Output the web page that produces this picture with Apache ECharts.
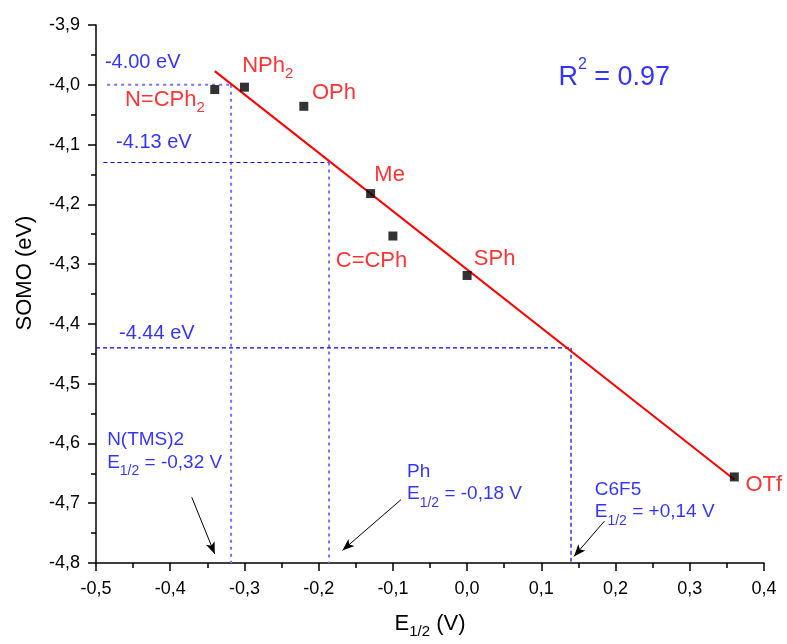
<!DOCTYPE html>
<html>
<head>
<meta charset="utf-8">
<script src="https://cdn.jsdelivr.net/npm/echarts@6/dist/echarts.min.js"></script>
<style>html,body{margin:0;padding:0;background:#fff;}#c{width:787px;height:644px;}</style>
</head>
<body>
<div id="c"></div>
<script>
// ---- data ----
const substituents = ['N=CPh{s|2}', 'NPh{s|2}', 'OPh', 'Me', 'C=CPh', 'SPh', 'OTf'];
const e12 = [-0.34, -0.30, -0.22, -0.13, -0.10, 0.00, 0.36];
const somo = [-4.008, -4.004, -4.036, -4.182, -4.253, -4.319, -4.656];
const labelX = [-0.461, -0.303, -0.209, -0.125, -0.177, 0.009, 0.375];
const labelY = [-4.025, -3.969, -4.013, -4.150, -4.294, -4.291, -4.670];

const fitIntercept = -4.309;
const fitSlope = -0.976;
const fitRange = [-0.34, 0.36];

const xTicks = [-0.5, -0.4, -0.3, -0.2, -0.1, 0.0, 0.1, 0.2, 0.3, 0.4];
const yTicks = [-4.8, -4.7, -4.6, -4.5, -4.4, -4.3, -4.2, -4.1, -4.0, -3.9];

// reference levels
const levelSomo = [-4.00, -4.13, -4.44];
const levelE = [-0.318, -0.186, 0.14];
const levelStartX = [-0.485, -0.49, -0.5];

const noteText = ['-4.00 eV', '-4.13 eV', '-4.44 eV', 'N(TMS)2', 'E{s|1/2} = -0,32 V', 'Ph', 'E{s|1/2} = -0,18 V', 'C6F5', 'E{s|1/2} = +0,14 V'];
const noteX = [-0.488, -0.473, -0.469, -0.485, -0.485, -0.081, -0.081, 0.172, 0.172];
const noteY = [-3.963, -4.096, -4.416, -4.594, -4.632, -4.647, -4.685, -4.677, -4.715];

const r2Text = 'R{p|2} = 0.97';
const r2Pos = [0.123, -3.988];

const arrowFrom = [[-0.371, -4.690], [-0.089, -4.694], [0.185, -4.730]];
const arrowTo = [[-0.340, -4.785], [-0.168, -4.779], [0.144, -4.789]];

// ---- chart ----
const FONT = 'Liberation Sans, Arial, sans-serif';
const chart = echarts.init(document.getElementById('c'), null, {renderer: 'canvas'});
const fmt = v => { if (Math.abs(v) < 1e-9) v = 0; return v.toFixed(1).replace('.', ','); };

const series = [];

// fit line
series.push({
  type: 'line', name: 'fit', symbol: 'none', z: 3,
  data: fitRange.map(x => [x, fitIntercept + fitSlope * x]),
  lineStyle: {color: '#ff0000', width: 2}, animation: false, silent: true
});

// reference lines
const darkDash = {color: '#0000dd', width: 1.2, type: [4, 3]};
const lightDot = {color: '#7373ff', width: 2, type: [3, 4]};
const hStyles = [lightDot, darkDash, darkDash];
const vStyles = [lightDot, lightDot, darkDash];
levelSomo.forEach((y, i) => {
  series.push({type: 'line', symbol: 'none', z: 2, animation: false, silent: true,
    data: [[levelStartX[i], y], [levelE[i], y]], lineStyle: hStyles[i]});
  series.push({type: 'line', symbol: 'none', z: 2, animation: false, silent: true,
    data: [[levelE[i], y], [levelE[i], yTicks[0]]], lineStyle: vStyles[i]});
});

// points
series.push({
  type: 'scatter', symbol: 'rect', symbolSize: 9, z: 5,
  itemStyle: {color: '#000', borderColor: '#000', borderWidth: 0},
  data: e12.map((x, i) => [x, somo[i]]), animation: false
});

// red labels
const redRich = {
  s: {fontSize: 15, color: '#ff0000', fontFamily: FONT, padding: [16, 0, 0, 0]}
};
series.push({
  type: 'scatter', symbolSize: 0, z: 6, animation: false, silent: true,
  data: substituents.map((t, i) => ({value: [labelX[i], labelY[i]], name: t})),
  label: {show: true, position: 'right', distance: 0, formatter: p => p.name,
    color: '#ff0000', fontSize: 22, fontFamily: FONT, rich: redRich}
});

// blue notes
const blueRich = {
  s: {fontSize: 14, color: '#0000ff', fontFamily: FONT, padding: [17, 0, 0, 0]},
  p: {fontSize: 16, color: '#0000ff', fontFamily: FONT, padding: [0, 0, 26, 0]}
};
const noteSizes = [20, 20, 20, 19, 19, 19, 19, 19, 19];
series.push({
  type: 'scatter', symbolSize: 0, z: 6, animation: false, silent: true,
  data: noteText.map((t, i) => ({value: [noteX[i], noteY[i]], name: t,
    label: {fontSize: noteSizes[i]}})),
  label: {show: true, position: 'right', distance: 0, formatter: p => p.name,
    color: '#0000ff', fontFamily: FONT, rich: blueRich}
});
series.push({
  type: 'scatter', symbolSize: 0, z: 6, animation: false, silent: true,
  data: [{value: r2Pos, name: r2Text}],
  label: {show: true, position: 'right', distance: 0, formatter: p => p.name,
    color: '#0000ff', fontSize: 27, fontFamily: FONT, rich: blueRich}
});

// arrows
series.push({
  type: 'line', data: [], silent: true, animation: false,
  markLine: {
    silent: true, animation: false, symbol: ['none', 'arrow'], symbolSize: [7, 12],
    label: {show: false},
    lineStyle: {color: '#000', width: 1, type: 'solid'},
    emphasis: {disabled: true},
    data: arrowFrom.map((f, i) => [{coord: f}, {coord: arrowTo[i]}])
  }
});

chart.setOption({
  animation: false,
  backgroundColor: '#fff',
  grid: {left: 96, right: 23, top: 25, bottom: 78, containLabel: false},
  xAxis: {
    type: 'value', min: xTicks[0], max: xTicks[xTicks.length - 1], interval: 0.1,
    splitLine: {show: false},
    axisLine: {onZero: false, lineStyle: {color: '#000', width: 1.5}},
    axisTick: {length: 8, lineStyle: {color: '#000', width: 1.5}},
    minorTick: {show: true, splitNumber: 2, length: 5, lineStyle: {color: '#000', width: 1.5}},
    axisLabel: {formatter: fmt, color: '#000', fontSize: 18, fontFamily: FONT, margin: 17},
    name: 'E{s|1/2} (V)', nameLocation: 'middle', nameGap: 45,
    nameTextStyle: {color: '#000', fontSize: 22, fontFamily: FONT,
      rich: {s: {fontSize: 15, fontFamily: FONT, color: '#000', padding: [16, 0, 0, 0]}}}
  },
  yAxis: {
    type: 'value', min: yTicks[0], max: yTicks[yTicks.length - 1], interval: 0.1,
    splitLine: {show: false},
    axisLine: {onZero: false, lineStyle: {color: '#000', width: 1.5}},
    axisTick: {length: 8, lineStyle: {color: '#000', width: 1.5}},
    minorTick: {show: true, splitNumber: 2, length: 5, lineStyle: {color: '#000', width: 1.5}},
    axisLabel: {formatter: fmt, color: '#000', fontSize: 18, fontFamily: FONT, margin: 16},
    name: 'SOMO (eV)', nameLocation: 'middle', nameGap: 60,
    nameTextStyle: {color: '#000', fontSize: 22, fontFamily: FONT, padding: [0, 0, 0, 42]}
  },
  series: series
});
</script>
</body>
</html>
